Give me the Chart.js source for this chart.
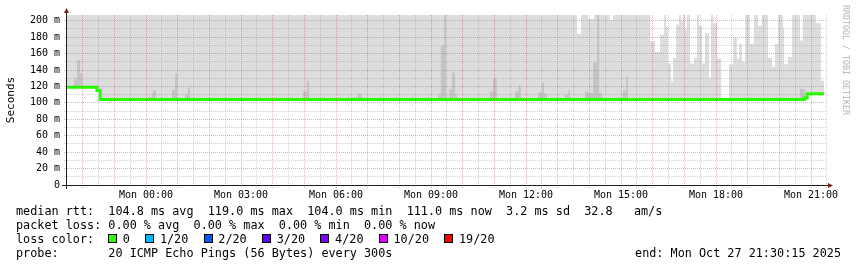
<!DOCTYPE html>
<html>
<head>
<meta charset="utf-8">
<script src="https://cdn.jsdelivr.net/npm/chart.js@4.4.1/dist/chart.umd.min.js"></script>
<style>
  body { margin: 0; background: #fff; }
  #wrap { position: relative; width: 857px; height: 267px; overflow: hidden; }
  #graph { position: absolute; left: 0; top: 0; }
  .row { position: absolute; left: 16px; font-family: 'DejaVu Sans Mono', monospace; font-size: 11.8px; line-height: 14px; color: #000; white-space: pre; }
  .sw { position: absolute; width: 7px; height: 7px; border: 1px solid #000; }
  .lbl { position: absolute; font-family: 'DejaVu Sans Mono', monospace; font-size: 11.8px; line-height: 14px; white-space: pre; }
  #brand { position: absolute; left: 851px; top: 5px; transform: rotate(90deg); transform-origin: left top;
           font-family: 'DejaVu Sans Mono', monospace; font-size: 8.3px; line-height: 10px; color: #b4b4b4; white-space: pre; }
</style>
</head>
<body>
<div id="wrap">
  <canvas id="graph" width="857" height="267"></canvas>
  <div id="brand">RRDTOOL / TOBI OETIKER</div>
  <div class="row" style="top:204px">median rtt:  104.8 ms avg  119.0 ms max  104.0 ms min  111.0 ms now  3.2 ms sd  32.8   am/s</div>
  <div class="row" style="top:218px">packet loss: 0.00 % avg  0.00 % max  0.00 % min  0.00 % now</div>
  <div class="row" style="top:232px">loss color:</div>
  <div class="row" style="top:246px">probe:       20 ICMP Echo Pings (56 Bytes) every 300s</div>
  <div class="row" style="top:246px; left:auto; right:16px">end: Mon Oct 27 21:30:15 2025</div>
</div>
<script>
// time axis: hours relative to Mon 00:00, window ends Mon 21:30:15
const xMin = -2.4958;
const xMax = 21.5042;
const yMax = 207;

const xLabelHours = [0, 3, 6, 9, 12, 15, 18, 21];
const xTickLabels = ['Mon 00:00', 'Mon 03:00', 'Mon 06:00', 'Mon 09:00', 'Mon 12:00', 'Mon 15:00', 'Mon 18:00', 'Mon 21:00'];
const yTickLabels = ['0', '20 m', '40 m', '60 m', '80 m', '100 m', '120 m', '140 m', '160 m', '180 m', '200 m'];

// median rtt (ms), step starts
const medianT = [-2.50, -1.55, -1.45, 20.79, 20.88, 21.41];
const medianV = [119, 115, 104, 106, 111, 111];

// outer smoke (max ping, ms)
const smokeMaxT = [-2.50, 13.61, 13.74, 13.96, 14.15, 14.65, 14.75, 15.92, 16.07, 16.23,
  16.36, 16.42, 16.48, 16.58, 16.64, 16.74, 16.83, 16.89, 16.96, 17.02,
  17.08, 17.18, 17.31, 17.40, 17.46, 17.56, 17.65, 17.78, 17.84, 17.91,
  18.03, 18.16, 18.41, 18.54, 18.66, 18.73, 18.82, 18.92, 19.07, 19.20,
  19.33, 19.45, 19.64, 19.77, 19.86, 19.96, 20.12, 20.15, 20.27, 20.40,
  20.65, 20.74, 21.15, 21.31, 21.41];
const smokeMaxV = [207, 184, 207, 202, 207, 201, 207, 175, 162, 183,
  207, 193, 148, 126, 155, 195, 207, 200, 207, 190,
  207, 148, 155, 207, 194, 148, 185, 130, 207, 197,
  154, 106, 147, 179, 154, 172, 150, 207, 172, 207,
  194, 207, 155, 144, 172, 207, 190, 147, 156, 207,
  176, 207, 197, 127, 127];

// denser smoke band (ms)
const smokeMidT = [-2.50, -2.27, -2.18, -2.08, -2.02, -1.55, -1.45, -0.51, -0.35, -0.25,
  -0.09, 0.06, 0.19, 0.22, 0.32, 0.82, 0.92, 0.98, 1.07, 1.23,
  1.33, 1.39, 2.08, 2.24, 4.80, 4.96, 5.08, 5.15, 6.51, 6.69,
  6.82, 6.92, 7.07, 7.33, 7.48, 8.08, 8.49, 8.56, 8.75, 8.81,
  9.13, 9.22, 9.31, 9.41, 9.47, 9.57, 9.66, 9.76, 9.82, 10.14,
  10.86, 10.96, 11.08, 11.24, 11.65, 11.75, 11.84, 12.38, 12.51, 12.57,
  12.66, 13.23, 13.33, 13.39, 13.86, 13.96, 14.12, 14.24, 14.31, 14.40,
  14.65, 14.81, 14.90, 15.06, 15.16, 15.22, 15.35, 20.65, 20.81, 20.88,
  21.41];
const smokeMidV = [119, 130, 152, 136, 119, 115, 104, 106, 104, 106,
  104, 107, 112, 115, 104, 116, 136, 104, 106, 110,
  119, 104, 106, 104, 106, 114, 127, 104, 107, 111,
  104, 105, 104, 105, 104, 105, 104, 105, 104, 106,
  104, 110, 170, 207, 106, 116, 137, 110, 105, 104,
  114, 130, 106, 104, 114, 120, 104, 113, 125, 111,
  104, 110, 115, 104, 114, 112, 149, 207, 112, 104,
  106, 104, 107, 115, 132, 106, 104, 117, 106, 111,
  111];

const lossLabels = ['0', '1/20', '2/20', '3/20', '4/20', '10/20', '19/20'];
const lossColors = ['#26ff00', '#00b8ff', '#0059ff', '#5e00ff', '#7e00ff', '#dd00ff', '#ff0000'];

const pts = (t, v) => t.map((x, i) => ({ x: x, y: v[i] }));

const MAJOR = 'rgba(225, 70, 70, 0.45)';
const MINOR = 'rgba(143, 143, 143, 0.4)';
const tickFont = { family: 'DejaVu Sans Mono', size: 10 };

// grid every half hour / every 10 ms
function halfHourTicks(s) {
  const t = [];
  for (let h = Math.ceil(s.min * 2) / 2; h <= s.max; h += 0.5) t.push({ value: h });
  s.ticks = t;
}
function tenMsTicks(s) {
  const t = [];
  for (let v = 0; v <= s.max; v += 10) t.push({ value: v });
  s.ticks = t;
}

// axis lines + arrows like rrdtool
const rrdAxes = {
  id: 'rrdAxes',
  afterDraw(chart) {
    const { ctx, chartArea: a } = chart;
    ctx.save();
    ctx.strokeStyle = 'rgb(31, 31, 31)';
    ctx.lineWidth = 1;
    ctx.beginPath();
    ctx.moveTo(a.left - 5, a.bottom + 0.5);
    ctx.lineTo(a.right + 2, a.bottom + 0.5);
    ctx.moveTo(a.left - 0.5, a.bottom + 4);
    ctx.lineTo(a.left - 0.5, a.top - 3);
    ctx.stroke();
    ctx.fillStyle = 'rgb(128, 31, 31)';
    ctx.beginPath();
    ctx.moveTo(a.left - 3, a.top - 2);
    ctx.lineTo(a.left + 2, a.top - 2);
    ctx.lineTo(a.left - 0.5, a.top - 7);
    ctx.closePath();
    ctx.fill();
    ctx.beginPath();
    ctx.moveTo(a.right + 1, a.bottom - 2);
    ctx.lineTo(a.right + 1, a.bottom + 3);
    ctx.lineTo(a.right + 6, a.bottom + 0.5);
    ctx.closePath();
    ctx.fill();
    ctx.restore();
  }
};

new Chart(document.getElementById('graph'), {
  type: 'line',
  data: {
    datasets: [
      {
        label: 'median rtt',
        data: pts(medianT, medianV),
        borderColor: lossColors[0],
        borderWidth: 3,
        stepped: true,
        pointRadius: 0,
        fill: false
      },
      {
        label: 'smoke mid',
        data: pts(smokeMidT, smokeMidV),
        borderWidth: 0,
        borderColor: 'rgba(0,0,0,0)',
        backgroundColor: '#c4c4c4',
        stepped: true,
        pointRadius: 0,
        fill: '-1'
      },
      {
        label: 'smoke max',
        data: pts(smokeMaxT, smokeMaxV),
        borderWidth: 0,
        borderColor: 'rgba(0,0,0,0)',
        backgroundColor: '#dddddd',
        stepped: true,
        pointRadius: 0,
        fill: '-2'
      }
    ]
  },
  options: {
    responsive: false,
    animation: false,
    devicePixelRatio: 1,
    layout: { padding: { left: 0, right: 30, top: 15, bottom: 0 } },
    plugins: { legend: { display: false }, tooltip: { enabled: false } },
    scales: {
      x: {
        type: 'linear',
        min: xMin,
        max: xMax,
        afterFit: (s) => { s.height = 82; },
        afterBuildTicks: halfHourTicks,
        border: { display: false, dash: [1, 1] },
        grid: {
          z: 1,
          color: (c) => (c.tick && c.tick.value % 1 === 0) ? MAJOR : MINOR,
          tickLength: 3,
          tickBorderDash: [1, 1]
        },
        ticks: {
          autoSkip: false,
          maxRotation: 0,
          padding: 1,
          color: '#000',
          font: tickFont,
          callback: (v) => {
            const i = xLabelHours.indexOf(v);
            return i >= 0 ? xTickLabels[i] : '';
          }
        }
      },
      y: {
        min: 0,
        max: yMax,
        afterFit: (s) => { s.width = 67; },
        afterBuildTicks: tenMsTicks,
        border: { display: false, dash: [1, 1] },
        grid: {
          z: 1,
          color: (c) => (c.tick && c.tick.value % 20 === 0) ? MAJOR : MINOR,
          tickLength: 3,
          tickBorderDash: [1, 1]
        },
        title: {
          display: true,
          text: 'Seconds',
          color: '#000',
          font: { family: 'DejaVu Sans Mono', size: 11 },
          padding: { top: 5, bottom: 0 }
        },
        ticks: {
          autoSkip: false,
          padding: 4,
          color: '#000',
          font: tickFont,
          callback: (v) => (v % 20 === 0 ? yTickLabels[v / 20] : '')
        }
      }
    }
  },
  plugins: [rrdAxes]
});

// loss colour legend
const wrap = document.getElementById('wrap');
let lx = 108;
lossLabels.forEach((name, i) => {
  const sw = document.createElement('div');
  sw.className = 'sw';
  sw.style.left = lx + 'px';
  sw.style.top = '234px';
  sw.style.background = lossColors[i];
  wrap.appendChild(sw);
  const lb = document.createElement('div');
  lb.className = 'lbl';
  lb.style.left = (lx + 14.8) + 'px';
  lb.style.top = '232px';
  lb.textContent = name;
  wrap.appendChild(lb);
  lx = lx + 14.8 + name.length * 7.1 + 15.2;
});
</script>
</body>
</html>
